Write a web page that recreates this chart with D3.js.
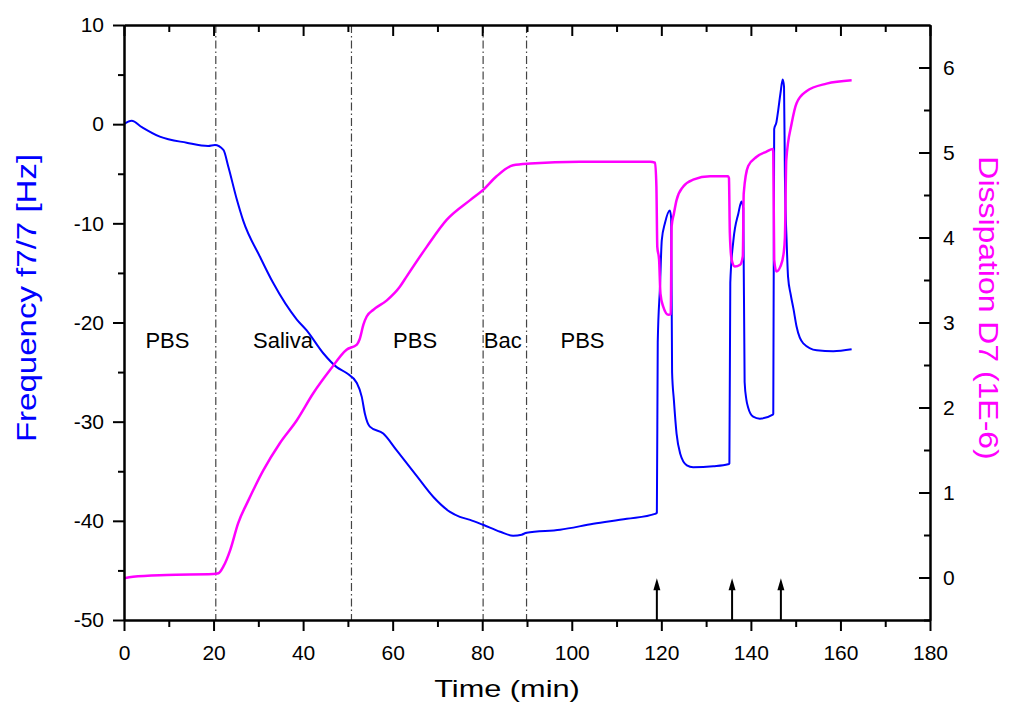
<!DOCTYPE html>
<html>
<head>
<meta charset="utf-8">
<script src="https://cdn.jsdelivr.net/npm/d3@7"></script>
<style>
  html, body { margin: 0; padding: 0; background: #fff; }
  svg { display: block; font-family: Arial, "Liberation Sans", sans-serif; }
</style>
</head>
<body>
<svg id="chart" width="1013" height="707"></svg>
<script>
// ---- Data ----
const frequencyData = [
  [0,0],[1.7,0.35],[4,-0.3],[8,-1.26],[14,-1.87],[18.8,-2.2],[20.3,-2.1],[22.2,-2.6],
  [23.3,-4.3],[25.2,-7.6],[26.6,-9.7],[30.4,-13.4],[33.3,-16.0],[38.6,-19.7],[40.8,-20.8],
  [44.5,-23.1],[47.5,-24.5],[49.7,-25.1],[52.0,-26.1],[53.1,-27.5],[53.8,-29.2],[54.9,-30.5],
  [57.9,-31.2],[60.9,-32.9],[65.4,-35.5],[69.1,-37.6],[72.8,-39.1],[75.0,-39.6],[77.3,-39.9],
  [80.2,-40.4],[84.0,-41.1],[86.9,-41.5],[88.8,-41.4],[89.9,-41.2],[97.4,-40.9],[104.8,-40.3],
  [112.3,-39.8],[118.6,-39.3],[119.0,-39.2],[119.2,-22],[119.7,-16.4],[120.1,-11.7],[120.8,-10.0],
  [121.9,-8.7],[122.2,-9.5],[122.4,-25],[122.8,-27.8],[123.4,-31.2],[124.2,-33.2],[125.7,-34.4],
  [127.1,-34.6],[131.6,-34.5],[134.9,-34.3],[135.2,-34.2],[135.4,-16.0],[136.1,-11.7],[137.2,-9.0],
  [137.9,-7.8],[138.3,-8.5],[138.6,-26],[139.0,-27.8],[139.4,-28.6],[140.5,-29.5],[142.0,-29.7],
  [144.9,-29.3],[145.0,-29.2],[145.2,-0.5],[145.7,0.2],[146.1,1.4],[146.6,3.1],[147.1,4.5],
  [147.4,3.8],[147.6,-5.3],[148.0,-12],[148.3,-15.4],[148.9,-17.2],[149.5,-18.6],[150.2,-20.4],
  [151.7,-22.1],[154.7,-22.8],[158.4,-22.9],[162.5,-22.7]
];
const dissipationData = [
  [0,-0.01],[2,0.01],[9.5,0.03],[19.9,0.04],[21.1,0.05],[22.2,0.13],[23.7,0.32],[25.5,0.64],
  [27.8,0.91],[31.1,1.26],[34.8,1.58],[38.6,1.85],[42.3,2.17],[46.0,2.44],[49.7,2.68],[52.0,2.74],
  [52.6,2.8],[53.5,2.98],[54.2,3.07],[55.7,3.15],[58.7,3.26],[61.6,3.42],[63.1,3.54],[67.6,3.89],
  [72.1,4.21],[77.3,4.44],[80.2,4.56],[83.2,4.72],[86.9,4.85],[90.7,4.87],[101.8,4.89],[117.5,4.89],
  [118.6,4.88],[118.9,4.6],[119.1,3.89],[119.5,3.74],[119.8,3.34],[120.4,3.19],[121.6,3.09],[122.1,3.1],
  [122.3,4.13],[122.8,4.28],[123.4,4.44],[124.9,4.60],[127.1,4.68],[130.9,4.72],[134.9,4.72],[135.1,4.7],
  [135.3,4.05],[135.7,3.74],[136.4,3.66],[137.6,3.68],[138.2,3.78],[138.4,4.52],[139.4,4.84],[141.3,4.95],
  [143.5,5.01],[144.9,5.04],[145.0,5.0],[145.2,3.74],[145.7,3.60],[146.6,3.66],[147.3,3.81],[147.6,4.0],
  [147.9,4.91],[149.1,5.34],[150.2,5.58],[152.4,5.72],[156.9,5.81],[162.5,5.85]
];
const phaseBoundaries = [20.5, 50.8, 80.2, 89.9];
const phaseLabels = ["PBS", "Saliva", "PBS", "Bac", "PBS"];
const phaseLabelTimes = [9.7, 35.5, 65.0, 84.6, 102.4];
const phaseLabelLevel = -22.6;
const arrowTimes = [119.0, 135.8, 146.7];
const arrowTipLevel = -45.8;
const xTicks = [0,20,40,60,80,100,120,140,160,180];
const xMinorTicks = [10,30,50,70,90,110,130,150,170];
const yLeftTicks = [-50,-40,-30,-20,-10,0,10];
const yLeftMinorTicks = [-45,-35,-25,-15,-5,5];
const yRightTicks = [0,1,2,3,4,5,6];
const yRightMinorTicks = [-0.5,0.5,1.5,2.5,3.5,4.5,5.5];

// ---- Scales ----
const L = 124, R = 930, T = 25, B = 620;
const x = d3.scaleLinear().domain([0,180]).range([L,R]);
const yL = d3.scaleLinear().domain([-50,10]).range([B,T]);
const yR = d3.scaleLinear().domain([-0.5,6.5]).range([B,T]);

const svg = d3.select("#chart");
svg.append("defs").append("clipPath").attr("id","clip")
  .append("rect").attr("x",L).attr("y",T).attr("width",R-L).attr("height",B-T);

// Phase boundary dash-dot lines
svg.append("g").selectAll("line").data(phaseBoundaries).join("line")
  .attr("x1", d => x(d)).attr("x2", d => x(d))
  .attr("y1", T).attr("y2", B)
  .attr("stroke", "#444").attr("stroke-width", 1.2)
  .attr("stroke-dasharray", "8,3,1.5,3");

// Phase labels
svg.append("g").selectAll("text").data(phaseLabels).join("text")
  .attr("x", (d,i) => x(phaseLabelTimes[i]))
  .attr("y", yL(phaseLabelLevel))
  .attr("text-anchor","middle")
  .attr("font-size", 22)
  .attr("fill","#000")
  .text(d => d);

// Lines
const gData = svg.append("g").attr("clip-path","url(#clip)");
gData.append("path").datum(frequencyData)
  .attr("fill","none").attr("stroke","#0000ff").attr("stroke-width",2)
  .attr("stroke-linejoin","round")
  .attr("d", d3.line().curve(d3.curveMonotoneX).x(d => x(d[0])).y(d => yL(d[1])));
gData.append("path").datum(dissipationData)
  .attr("fill","none").attr("stroke","#ff00ff").attr("stroke-width",2.5)
  .attr("stroke-linejoin","round")
  .attr("d", d3.line().curve(d3.curveMonotoneX).x(d => x(d[0])).y(d => yR(d[1])));

// Arrows
const gArr = svg.append("g");
arrowTimes.forEach(t => {
  const ax = x(t), yTip = yL(arrowTipLevel);
  gArr.append("line").attr("x1",ax).attr("x2",ax).attr("y1",B).attr("y2",yTip+8)
    .attr("stroke","#000").attr("stroke-width",2);
  gArr.append("path")
    .attr("d", `M${ax},${yTip} L${ax-3.5},${yTip+12} L${ax+3.5},${yTip+12} Z`)
    .attr("fill","#000");
});

// Axes
const fmt = d => String(d);
function styleAxis(g){
  g.select(".domain").attr("stroke","#000").attr("stroke-width",2);
  g.selectAll(".tick line").attr("stroke","#000").attr("stroke-width",2);
  g.selectAll(".tick text").attr("fill","#000").attr("font-size",21)
    .attr("font-family","Arial, 'Liberation Sans', sans-serif");
}
// bottom
svg.append("g").attr("transform",`translate(0,${B})`)
  .call(d3.axisBottom(x).tickValues(xTicks).tickFormat(fmt).tickSize(11).tickPadding(14).tickSizeOuter(0))
  .call(styleAxis);
svg.append("g").attr("transform",`translate(0,${B})`)
  .call(d3.axisBottom(x).tickValues(xMinorTicks).tickFormat("").tickSize(7).tickSizeOuter(0))
  .call(styleAxis);
// top (inward ticks)
svg.append("g").attr("transform",`translate(0,${T})`)
  .call(d3.axisTop(x).tickValues(xTicks).tickFormat("").tickSize(-11).tickSizeOuter(0))
  .call(styleAxis);
svg.append("g").attr("transform",`translate(0,${T})`)
  .call(d3.axisTop(x).tickValues(xMinorTicks).tickFormat("").tickSize(-7).tickSizeOuter(0))
  .call(styleAxis);
// left
svg.append("g").attr("transform",`translate(${L},0)`)
  .call(d3.axisLeft(yL).tickValues(yLeftTicks).tickFormat(fmt).tickSize(11).tickPadding(9).tickSizeOuter(0))
  .call(styleAxis);
svg.append("g").attr("transform",`translate(${L},0)`)
  .call(d3.axisLeft(yL).tickValues(yLeftMinorTicks).tickFormat("").tickSize(6).tickSizeOuter(0))
  .call(styleAxis);
// right (inward ticks)
svg.append("g").attr("transform",`translate(${R},0)`)
  .call(d3.axisRight(yR).tickValues(yRightTicks).tickFormat(fmt).tickSize(-11).tickPadding(13).tickSizeOuter(0))
  .call(styleAxis);
svg.append("g").attr("transform",`translate(${R},0)`)
  .call(d3.axisRight(yR).tickValues(yRightMinorTicks).tickFormat("").tickSize(-6).tickSizeOuter(0))
  .call(styleAxis);

// Axis titles (horizontally stretched like the original)
svg.append("text")
  .attr("transform","translate(36,298) rotate(-90) scale(1.18,1)")
  .attr("text-anchor","middle").attr("font-size",28).attr("fill","#0000ff")
  .text("Frequency f7/7 [Hz]");
svg.append("text")
  .attr("transform","translate(979,308) rotate(90) scale(1.14,1)")
  .attr("text-anchor","middle").attr("font-size",28).attr("fill","#ff00ff")
  .text("Dissipation D7 (1E-6)");
svg.append("text")
  .attr("transform","translate(507,697) scale(1.28,1)")
  .attr("text-anchor","middle").attr("font-size",24).attr("fill","#000")
  .text("Time (min)");
</script>
</body>
</html>
